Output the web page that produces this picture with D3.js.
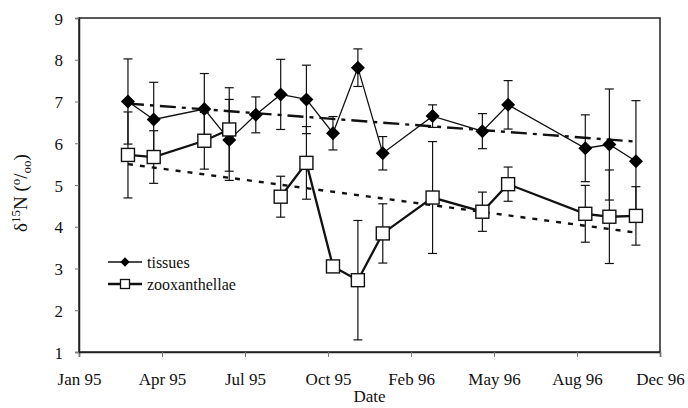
<!DOCTYPE html>
<html>
<head>
<meta charset="utf-8">
<script src="https://cdn.jsdelivr.net/npm/d3@7"></script>
<style>
  body { margin: 0; background: #fff; }
  text { font-family: "Liberation Serif", "Times New Roman", serif; fill: #111; }
</style>
</head>
<body>
<div id="chart"></div>
<script>
// sampling dates (monthly collections)
const sampleDates = ['1995-03-01', '1995-04-01', '1995-06-01', '1995-07-01', '1995-08-02', '1995-09-01',
  '1995-10-02', '1995-11-03', '1995-12-03', '1996-01-02', '1996-03-02', '1996-05-01', '1996-06-01',
  '1996-09-02', '1996-10-01', '1996-11-02'];

// d15N of host tissues and of zooxanthellae, with error bars
const tissues = [7.0, 6.57, 6.82, 6.08, 6.68, 7.17, 7.05, 6.24, 7.81, 5.76, 6.65, 6.29, 6.92, 5.88, 5.97, 5.57];
const tissuesErr = [1.02, 0.89, 0.85, 0.97, 0.43, 0.84, 0.82, 0.40, 0.45, 0.40, 0.27, 0.42, 0.58, 0.80, 1.33, 1.45];
const zoox = [5.72, 5.67, 6.06, 6.33, null, 4.72, 5.53, 3.05, 2.72, 3.84, 4.70, 4.36, 5.02, 4.31, 4.24, 4.26];
const zooxErr = [1.03, 0.63, 0.68, 1.0, null, 0.49, 0.87, 0.1, 1.43, 0.71, 1.34, 0.47, 0.41, 0.68, 1.12, 0.70];

// linear trend lines: values at first and last sampling date
const tissuesTrend = [6.95, 6.04];
const zooxTrend = [5.50, 3.86];

// axis ticks (date axis, 100 day major unit)
const xTickDates = ['1995-01-01', '1995-04-11', '1995-07-20', '1995-10-28', '1996-02-05', '1996-05-15',
  '1996-08-23', '1996-12-01'];
const yTicks = [1, 2, 3, 4, 5, 6, 7, 8, 9];
const seriesNames = ['tissues', 'zooxanthellae'];

const width = 688;
const height = 408;
const margin = { top: 18, right: 28, bottom: 56, left: 79 };
const parse = d3.utcParse('%Y-%m-%d');
const fmt = d3.utcFormat('%b %y');

const svg = d3.select('#chart').append('svg')
  .attr('width', width)
  .attr('height', height);

const x = d3.scaleUtc()
  .domain([parse(xTickDates[0]), parse(xTickDates[xTickDates.length - 1])])
  .range([margin.left, width - margin.right]);
const y = d3.scaleLinear()
  .domain([1, 9])
  .range([height - margin.bottom, margin.top]);

const dates = sampleDates.map(parse);

// plot frame
svg.append('rect')
  .attr('x', margin.left)
  .attr('y', margin.top)
  .attr('width', width - margin.left - margin.right)
  .attr('height', height - margin.top - margin.bottom)
  .attr('fill', 'none')
  .attr('stroke', '#222')
  .attr('stroke-width', 1.5);

const xAxis = svg.append('g')
  .attr('transform', `translate(0,${height - margin.bottom})`)
  .call(d3.axisBottom(x).tickValues(xTickDates.map(parse)).tickFormat(fmt).tickSize(5).tickPadding(16));
xAxis.selectAll('text').style('font-size', '17px').attr('font-family', null);

const yAxis = svg.append('g')
  .attr('transform', `translate(${margin.left},0)`)
  .call(d3.axisLeft(y).tickValues(yTicks).tickFormat(d3.format('d')).tickSize(4).tickPadding(12));
yAxis.selectAll('text').style('font-size', '17px').attr('font-family', null).attr('dy', '0.36em');

[xAxis, yAxis].forEach(a => {
  a.select('.domain').attr('stroke', '#222').attr('stroke-width', 1.5);
  a.selectAll('.tick line').attr('stroke', '#777');
});

// axis titles
svg.append('text')
  .attr('x', (margin.left + width - margin.right) / 2)
  .attr('y', 402)
  .attr('text-anchor', 'middle')
  .style('font-size', '17px')
  .text('Date');

const yTitle = svg.append('text')
  .attr('transform', `translate(27,${(margin.top + height - margin.bottom) / 2 + 8}) rotate(-90)`)
  .attr('text-anchor', 'middle')
  .style('font-size', '19px');
yTitle.append('tspan').text('δ');
yTitle.append('tspan').attr('dy', -7).style('font-size', '13px').text('15');
yTitle.append('tspan').attr('dy', 7).text('N (');
yTitle.append('tspan').attr('dy', -7).style('font-size', '13px').text('o');
yTitle.append('tspan').attr('dy', 7).text('/');
yTitle.append('tspan').attr('dy', 4).style('font-size', '13px').text('oo');
yTitle.append('tspan').attr('dy', -4).text(')');

// trend lines
const first = dates[0];
const last = dates[dates.length - 1];
svg.append('line')
  .attr('x1', x(first)).attr('y1', y(tissuesTrend[0]))
  .attr('x2', x(last)).attr('y2', y(tissuesTrend[1]))
  .attr('stroke', '#111').attr('stroke-width', 2.4)
  .attr('stroke-dasharray', '16,6,4,6');
svg.append('line')
  .attr('x1', x(first)).attr('y1', y(zooxTrend[0]))
  .attr('x2', x(last)).attr('y2', y(zooxTrend[1]))
  .attr('stroke', '#111').attr('stroke-width', 2.4)
  .attr('stroke-dasharray', '5,7');

function errorBars(values, errs) {
  const g = svg.append('g').attr('stroke', '#111').attr('stroke-width', 1.2);
  values.forEach((v, i) => {
    if (v == null) return;
    const cx = x(dates[i]);
    const hi = y(v + errs[i]);
    const lo = y(v - errs[i]);
    g.append('line').attr('x1', cx).attr('x2', cx).attr('y1', hi).attr('y2', lo);
    g.append('line').attr('x1', cx - 4.5).attr('x2', cx + 4.5).attr('y1', hi).attr('y2', hi);
    g.append('line').attr('x1', cx - 4.5).attr('x2', cx + 4.5).attr('y1', lo).attr('y2', lo);
  });
}

const line = d3.line()
  .defined(d => d[1] != null)
  .x(d => x(d[0]))
  .y(d => y(d[1]));

// tissues
errorBars(tissues, tissuesErr);
svg.append('path')
  .datum(dates.map((d, i) => [d, tissues[i]]))
  .attr('d', line)
  .attr('fill', 'none')
  .attr('stroke', '#111')
  .attr('stroke-width', 1.3);
const diamond = d3.symbol().type(d3.symbolDiamond2).size(125);
svg.selectAll('.tissue')
  .data(tissues)
  .enter()
  .append('path')
  .attr('class', 'tissue')
  .attr('transform', (d, i) => `translate(${x(dates[i])},${y(d)})`)
  .attr('d', diamond)
  .attr('fill', '#000');

// zooxanthellae
errorBars(zoox, zooxErr);
svg.append('path')
  .datum(dates.map((d, i) => [d, zoox[i]]))
  .attr('d', line)
  .attr('fill', 'none')
  .attr('stroke', '#111')
  .attr('stroke-width', 2.3);
svg.selectAll('.zoox')
  .data(zoox.map((v, i) => [dates[i], v]).filter(d => d[1] != null))
  .enter()
  .append('rect')
  .attr('class', 'zoox')
  .attr('x', d => x(d[0]) - 6.5)
  .attr('y', d => y(d[1]) - 6.5)
  .attr('width', 13)
  .attr('height', 13)
  .attr('fill', '#fff')
  .attr('stroke', '#111')
  .attr('stroke-width', 1.4);

// legend
const legend = svg.append('g');
seriesNames.forEach((name, i) => {
  const ly = 262 + i * 22;
  legend.append('line')
    .attr('x1', 108).attr('x2', 142).attr('y1', ly).attr('y2', ly)
    .attr('stroke', '#111').attr('stroke-width', i === 0 ? 1.3 : 2.3);
  if (i === 0) {
    legend.append('path')
      .attr('transform', `translate(125,${ly})`)
      .attr('d', d3.symbol().type(d3.symbolDiamond2).size(55))
      .attr('fill', '#000');
  } else {
    legend.append('rect')
      .attr('x', 120.5).attr('y', ly - 4.5).attr('width', 9).attr('height', 9)
      .attr('fill', '#fff').attr('stroke', '#111').attr('stroke-width', 1.3);
  }
  legend.append('text')
    .attr('x', 147)
    .attr('y', ly + 6)
    .style('font-size', '16px')
    .text(name);
});
</script>
</body>
</html>
